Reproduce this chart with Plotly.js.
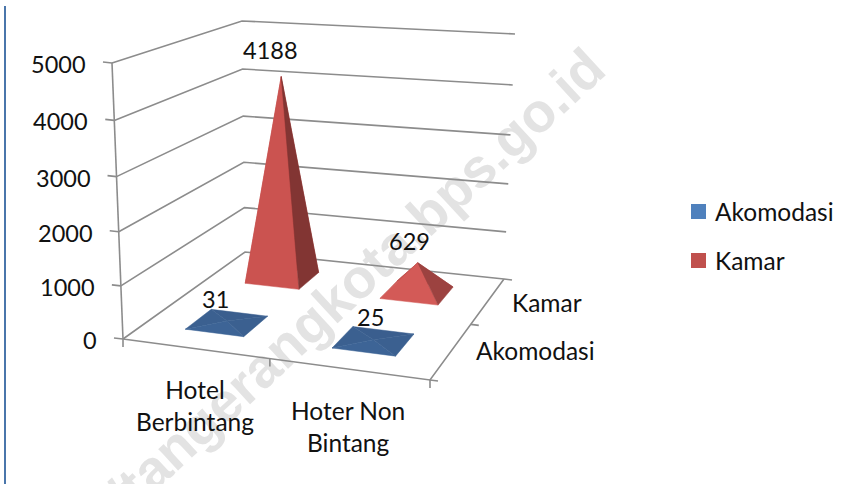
<!DOCTYPE html>
<html><head><meta charset="utf-8">
<script src="https://cdn.plot.ly/plotly-3.0.1.min.js"></script>
<style>html,body{margin:0;padding:0;background:#fff}#c{width:854px;height:484px}</style>
</head><body><div id="c"></div>
<script>
const categories = ['Hotel<br>Berbintang', 'Hoter Non<br>Bintang'];
const seriesNames = ['Akomodasi', 'Kamar'];
const akomodasi = [31, 25];
const kamar = [4188, 629];
const valueTicks = [0, 1000, 2000, 3000, 4000, 5000];
const valueMax = 5000;

const FONT = 'Lato, Carlito, Calibri, sans-serif';
const FS = 24.5, FSNUM = 23.5;
const GRID = '#8c8c8c', INK = '#111';

// projection of the 3-D box on the page: corners (front-left, front-right, back-right, back-left)
const floorQ = [[123,339],[430,380],[504,279],[245,252]];
const topQ   = [[112,63],[437,90],[515,34],[242,21]];
function homog(q){
  const [[x0,y0],[x1,y1],[x2,y2],[x3,y3]] = q;
  const dx1=x1-x2, dx2=x3-x2, sx=x0-x1+x2-x3, dy1=y1-y2, dy2=y3-y2, sy=y0-y1+y2-y3;
  const d=dx1*dy2-dx2*dy1, g=(sx*dy2-dx2*sy)/d, h=(dx1*sy-sx*dy1)/d;
  return (u,v)=>{const w=g*u+h*v+1;
    return [((x1-x0+g*x1)*u+(x3-x0+h*x3)*v+x0)/w, ((y1-y0+g*y1)*u+(y3-y0+h*y3)*v+y0)/w];};
}
function bilin(q){
  return (u,v)=>[0,1].map(k=>q[0][k]*(1-u)*(1-v)+q[1][k]*u*(1-v)+q[2][k]*u*v+q[3][k]*(1-u)*v);
}
const hF=homog(floorQ), hT=bilin(topQ);
function P(u,v,val){
  const a=hF(u,v),b=hT(u,v),s=val/valueMax,t=s/(1+0.05*(1-s));
  return [a[0]+(b[0]-a[0])*t,a[1]+(b[1]-a[1])*t];
}

const traces=[];
function line(pts,color,width){
  traces.push({type:'scatter',mode:'lines',x:pts.map(p=>p[0]),y:pts.map(p=>p[1]),
    line:{color:color||GRID,width:width||1.6},hoverinfo:'skip',showlegend:false});
}
valueTicks.forEach(v=>{
  if(v>0) line([P(0,0,v),P(0,1,v),P(1,1,v)]);
  const a=P(0,0,v); line([[a[0]-9,a[1]-1],a]);
});
line([P(0,0,0),P(0,0,valueMax)]);
line([P(0,0,0),P(1,0,0),P(1,1,0),P(0,1,0),P(0,0,0)]);
[[0,0],[0.5,0],[1,0]].forEach(([u,v])=>{const a=P(u,v,0);line([a,[a[0],a[1]+8]]);});
[[1,0],[1,0.5],[1,1]].forEach(([u,v])=>{const a=P(u,v,0);line([a,[a[0]+8,a[1]+1]]);});

// pyramids
const HW=0.102;
function face(pts,color){
  traces.push({type:'scatter',mode:'lines',x:pts.map(p=>p[0]),y:pts.map(p=>p[1]),fill:'toself',
    fillcolor:color,line:{color:color,width:0.5},hoverinfo:'skip',showlegend:false});
}
function pyramid(i,s,val,c){
  const u=(i+0.5)/2,v=(s+0.5)/2;
  const A=P(u-HW,v-HW,0),B=P(u+HW,v-HW,0),C=P(u+HW,v+HW,0),D=P(u-HW,v+HW,0),T=P(u,v,val);
  face([D,C,T,D],c.back);
  face([A,D,T,A],c.left);
  face([A,B,T,A],c.front);
  face([B,C,T,B],c.right);
}
const blue={back:'#3a5e8e',left:'#3b6090',front:'#3d6496',right:'#3b6090'};
const red={back:'#a8413f',left:'#c5504d',front:'#cb5350',right:'#823533'};
const red2={back:'#a8413f',left:'#c5504d',front:'#d35a57',right:'#9c4240'};
pyramid(1,1,kamar[1],red2);
pyramid(0,1,kamar[0],red);
pyramid(1,0,akomodasi[1],blue);
pyramid(0,0,akomodasi[0],blue);

// legend swatches
const legendColors=['#4f81bd','#c0504d'];
seriesNames.forEach((n,i)=>{
  traces.push({type:'scatter',mode:'markers',name:n,x:[698.5],y:[211.5+49*i],
    marker:{symbol:'square',size:15,color:legendColors[i]},hoverinfo:'skip',showlegend:false,cliponaxis:false});
});

const ann=[];
function label(x,y,text,anchor,size){ann.push({x,y,xref:'x',yref:'y',text,showarrow:false,font:{family:FONT,size:size||FS,color:INK},xanchor:anchor||'center',yanchor:'middle',align:'center'});}
valueTicks.forEach(v=>{const a=P(0,0,v);label(a[0]-24,a[1]+1,String(v),'right',FSNUM);});
categories.forEach((c,i)=>{const a=P((i+0.5)/2,0,0);label(a[0],a[1]+57,c);});
const serOff=[[84,0],[59,2]];
seriesNames.forEach((n,i)=>{const a=P(1,(i+0.5)/2,0);label(a[0]+serOff[i][0],a[1]+serOff[i][1],n);});
// data labels
[[0,0,akomodasi[0],-11,-22],[1,0,akomodasi[1],-3,-23],[0,1,kamar[0],-11,-27],[1,1,kamar[1],-8,-22]].forEach(([i,s,val,dx,dy])=>{
  const t=P((i+0.5)/2,(s+0.5)/2,val); label(t[0]+dx,t[1]+dy,String(val),'center',FSNUM);
});
seriesNames.forEach((n,i)=>label(713,211+49*i,n,'left'));

Plotly.newPlot('c',traces,{
  width:854,height:484,margin:{l:0,r:0,t:0,b:0},paper_bgcolor:'#fff',plot_bgcolor:'#fff',showlegend:false,
  xaxis:{range:[0,854],visible:false,fixedrange:true},
  yaxis:{range:[484,0],visible:false,fixedrange:true},
  annotations:ann,
  shapes:[
    {type:'line',xref:'x',yref:'y',x0:5,x1:5,y0:6,y1:484,line:{color:'#4a76ab',width:2},layer:'below'},
    {type:'line',xref:'x',yref:'y',x0:-48,y0:647,x1:592,y1:55,line:{color:'rgba(0,0,0,0)',width:0},layer:'below',
     label:{text:'<b>/tangerangkota.bps.go.id</b>',textangle:'auto',textposition:'end',yanchor:'middle',font:{family:'Liberation Sans',size:55,color:'#e3e3e3'}}}
  ]
},{staticPlot:true});
</script></body></html>
